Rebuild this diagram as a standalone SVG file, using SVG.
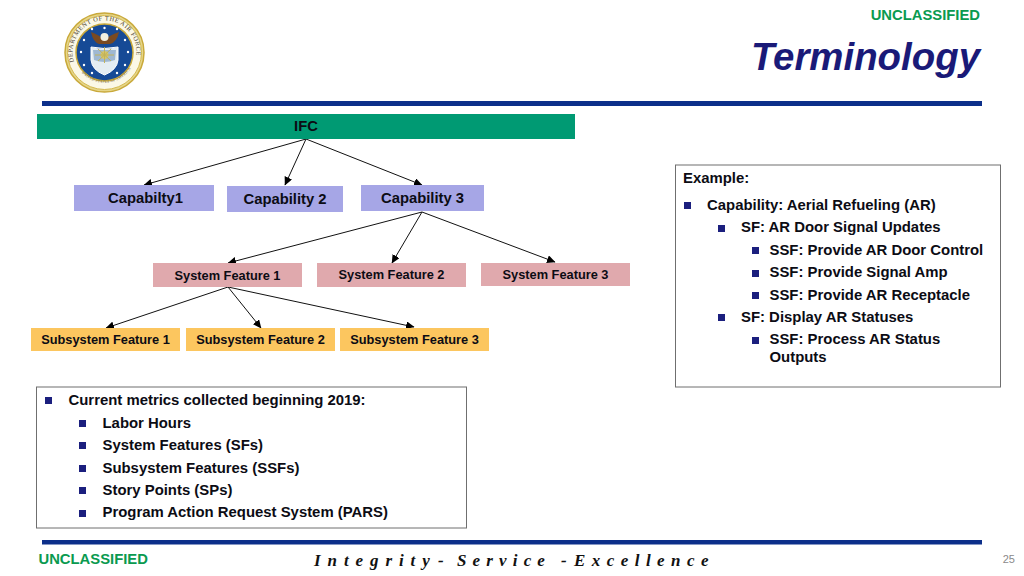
<svg xmlns="http://www.w3.org/2000/svg" width="1024" height="576" viewBox="0 0 1024 576">
<style>
text{font-family:"Liberation Sans",Arial,sans-serif;font-weight:700;fill:#0c0c14}
.n14{font-size:14.900px}
.n12{font-size:12.800px;text-anchor:middle}
.c{font-size:14.800px;text-anchor:middle}
.b{fill:#1b1f7e}
.cap{fill:#a6a6e6}
.sf{fill:#e0a9ad}
.ssf{fill:#fcc65f}
.box{fill:#fff;stroke:#6f6f6f;stroke-width:1}
.rule{fill:#0c2f8a}
.conn line{stroke:#111;stroke-width:1;marker-end:url(#arr)}
</style>
<defs>
<marker id="arr" markerUnits="userSpaceOnUse" markerWidth="9" markerHeight="8" refX="8" refY="4" orient="auto"><path d="M0 0L8.500 4L0 8Z" fill="#000"/></marker>
<path id="sealL" d="M74 62A32 32 0 1 1 135 62"/>
<path id="sealB" d="M78 68A31 31 0 0 0 131 68"/>
</defs>
<rect width="1024" height="576" fill="#fff"/>
<g id="seal">
<circle cx="104.500" cy="52.500" r="39.500" fill="#e6d68a" stroke="#c9a93a" stroke-width="1.500"/>
<circle cx="104.500" cy="52.500" r="37" fill="#fbf8e6" stroke="#d4b94f" stroke-width="1"/>
<circle cx="104.500" cy="52.500" r="28.500" fill="#164a96" stroke="#c9a93a" stroke-width="1.500"/>
<text font-size="6.400" style="font-family:'Liberation Serif',serif;font-weight:400;fill:#4a4230" letter-spacing=".5"><textPath href="#sealL">DEPARTMENT OF THE AIR FORCE</textPath></text>
<text font-size="3.600" style="font-family:'Liberation Serif',serif;font-weight:400;fill:#6a6250" letter-spacing=".3"><textPath href="#sealB" startOffset="6">UNITED STATES OF AMERICA</textPath></text>
<path d="M91 47L91 60Q92 70 104.500 75Q117 70 118 60L118 47Q104 50 91 47Z" fill="#e4edf2" stroke="#fff" stroke-width="1"/>
<path d="M93 50L116 50L115 60Q104.500 64 94 60Z" fill="#9fb8d2"/>
<circle cx="104.500" cy="55" r="4" fill="#d6c66a"/>
<path d="M95 55L114 55M104.500 47L104.500 63M98 49L111 61M111 49L98 61" stroke="#c2b25a" stroke-width="1"/>
<path d="M91 32Q100 35 104.500 41Q109 35 119 32Q117 42 110 44L99 44Q93 42 91 32Z" fill="#7a4a22"/>
<circle cx="104.500" cy="37" r="4" fill="#f2efe0"/>
<g fill="#fff"><circle cx="104.500" cy="28" r="1.200"/><circle cx="92" cy="29" r="1.200"/><circle cx="117" cy="29" r="1.200"/><circle cx="84" cy="40" r="1.200"/><circle cx="125" cy="40" r="1.200"/><circle cx="81" cy="52" r="1.200"/><circle cx="128" cy="52" r="1.200"/><circle cx="84" cy="65" r="1.200"/><circle cx="125" cy="65" r="1.200"/><circle cx="92" cy="73" r="1.200"/><circle cx="117" cy="73" r="1.200"/></g>
</g>
<g id="header">
<text x="980" y="20" text-anchor="end" font-size="14.800" style="fill:#0a9a50">UNCLASSIFIED</text>
<text x="980" y="69.500" text-anchor="end" font-size="38.400" font-style="italic" style="fill:#1a1a78">Terminology</text>
<rect class="rule" x="42" y="101" width="940" height="5"/>
</g>
<g id="connectors" class="conn">
<line x1="306" y1="139" x2="144" y2="185"/>
<line x1="306" y1="139" x2="285" y2="185"/>
<line x1="306" y1="139" x2="422" y2="185"/>
<line x1="422" y1="212" x2="228" y2="263"/>
<line x1="422" y1="212" x2="392" y2="263"/>
<line x1="422" y1="212" x2="555" y2="262"/>
<line x1="228" y1="287" x2="106" y2="328"/>
<line x1="228" y1="287" x2="261" y2="328"/>
<line x1="228" y1="287" x2="414" y2="327"/>
</g>
<g id="n-ifc"><rect x="37" y="114" width="538" height="25" fill="#009a73"/><text class="c" x="306" y="131">IFC</text></g>
<g id="n-cap1"><rect class="cap" x="74" y="185" width="140" height="26"/><text class="c" x="145.500" y="203">Capabilty1</text></g>
<g id="n-cap2"><rect class="cap" x="227" y="186" width="116" height="26"/><text class="c" x="285" y="204">Capability 2</text></g>
<g id="n-cap3"><rect class="cap" x="361" y="185" width="123" height="26"/><text class="c" x="422.500" y="203">Capability 3</text></g>
<g id="n-sf1"><rect class="sf" x="153" y="263" width="149" height="24"/><text class="n12" x="227.500" y="280">System Feature 1</text></g>
<g id="n-sf2"><rect class="sf" x="317" y="263" width="149" height="24"/><text class="n12" x="391.500" y="279">System Feature 2</text></g>
<g id="n-sf3"><rect class="sf" x="481" y="263" width="149" height="23"/><text class="n12" x="555.500" y="279">System Feature 3</text></g>
<g id="n-ssf1"><rect class="ssf" x="31" y="328" width="149" height="23"/><text class="n12" x="105.500" y="344">Subsystem Feature 1</text></g>
<g id="n-ssf2"><rect class="ssf" x="186" y="328" width="149" height="23"/><text class="n12" x="260.500" y="344">Subsystem Feature 2</text></g>
<g id="n-ssf3"><rect class="ssf" x="340" y="328" width="149" height="23"/><text class="n12" x="414.500" y="344">Subsystem Feature 3</text></g>
<g id="example">
<rect class="box" x="675.500" y="165" width="325" height="222"/>
<text class="n14" x="683" y="183">Example:</text>
<rect class="b" x="684" y="202" width="7" height="7"/><text class="n14" x="707" y="210">Capability: Aerial Refueling (AR)</text>
<rect class="b" x="718" y="225" width="7" height="7"/><text class="n14" x="741" y="232">SF: AR Door Signal Updates</text>
<rect class="b" x="752" y="247" width="7" height="7"/><text class="n14" x="769.500" y="255">SSF: Provide AR Door Control</text>
<rect class="b" x="752" y="270" width="7" height="7"/><text class="n14" x="769.500" y="277">SSF: Provide Signal Amp</text>
<rect class="b" x="752" y="292" width="7" height="7"/><text class="n14" x="769.500" y="300">SSF: Provide AR Receptacle</text>
<rect class="b" x="718" y="314" width="7" height="7"/><text class="n14" x="741" y="322">SF: Display AR Statuses</text>
<rect class="b" x="752" y="337" width="7" height="7"/><text class="n14" x="769.500" y="344">SSF: Process AR Status</text>
<text class="n14" x="769.500" y="362">Outputs</text>
</g>
<g id="metrics">
<rect class="box" x="36.500" y="387" width="430" height="141"/>
<rect class="b" x="45" y="397" width="7" height="7"/><text class="n14" x="68.500" y="405">Current metrics collected beginning 2019:</text>
<rect class="b" x="79" y="420" width="7" height="7"/><text class="n14" x="102.500" y="428">Labor Hours</text>
<rect class="b" x="79" y="442" width="7" height="7"/><text class="n14" x="102.500" y="450">System Features (SFs)</text>
<rect class="b" x="79" y="465" width="7" height="7"/><text class="n14" x="102.500" y="473">Subsystem Features (SSFs)</text>
<rect class="b" x="79" y="487" width="7" height="7"/><text class="n14" x="102.500" y="495">Story Points (SPs)</text>
<rect class="b" x="79" y="510" width="7" height="7"/><text class="n14" x="102.500" y="517">Program Action Request System (PARS)</text>
</g>
<g id="footer">
<rect class="rule" x="42" y="540" width="940" height="4.500"/>
<text x="38.500" y="564" font-size="14.800" style="fill:#0a9a50">UNCLASSIFIED</text>
<text y="566" font-size="17" font-style="italic" letter-spacing="1.330" style="font-family:'Liberation Serif',serif;fill:#111"><tspan x="314">I n t e g r i t y </tspan><tspan x="438">- </tspan><tspan x="457" letter-spacing=".95">S e r v i c e </tspan><tspan x="561">- </tspan><tspan x="574" letter-spacing="1.100">E x c e l l e n c e</tspan></text>
<text x="1015" y="563" text-anchor="end" font-size="11" style="font-weight:400;fill:#8a8a8a">25</text>
</g>
</svg>
